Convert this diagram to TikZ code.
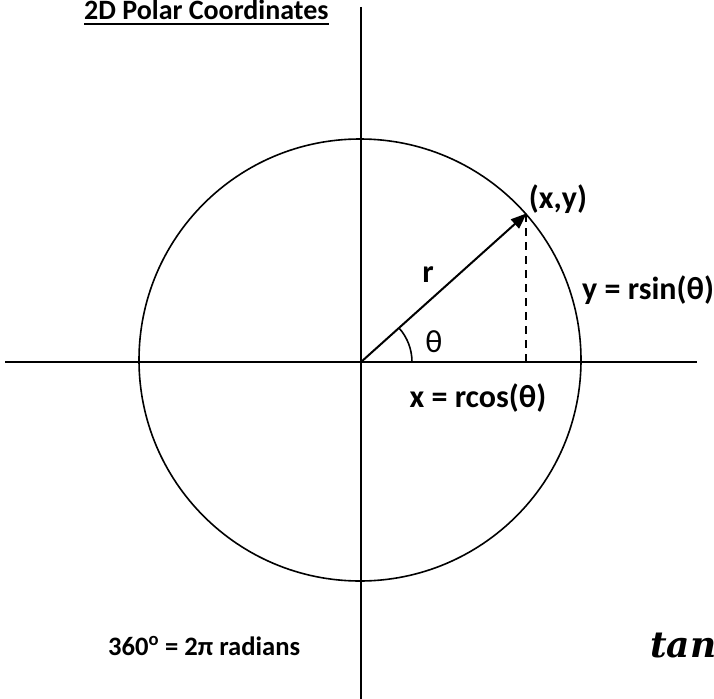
\documentclass[tikz,border=0pt]{standalone}
\usepackage{fontspec}
\setmainfont{Carlito}
\newfontfamily\mathlike{DejaVu Serif}
\usetikzlibrary{arrows.meta}
\begin{document}
\begin{tikzpicture}[x=1pt,y=-1pt,
  axis/.style={line width=2pt},
  lbl/.style={font=\fontsize{32}{36}\selectfont\bfseries, inner sep=0pt},
]
\useasboundingbox (0,0) rectangle (714,698);
\clip (0,0) rectangle (714,698);
\coordinate (O) at (361,362);
\coordinate (vt) at (361,7);
\coordinate (vb) at (361,700);
\coordinate (hl) at (5,362);
\coordinate (hr) at (697,362);
\coordinate (P) at (526,214);
\coordinate (Px) at (526,362);
\draw[axis] (vt) -- (vb);
\draw[axis] (hl) -- (hr);
\draw[line width=1.6pt] (360,360) circle (221);
\draw[axis, -{Triangle[length=16pt,width=12pt]}, shorten >=-1pt] (O) -- (P);
\draw[line width=1.6pt, dash pattern=on 8pt off 6pt] (P) -- (Px);
\draw[line width=1.6pt] (412,362) arc[start angle=0, end angle=-42, radius=51];
\node[font=\fontsize{28}{32}\selectfont\bfseries, inner sep=0pt, anchor=base west] (title) at (84,20) {2D Polar Coordinates};
\draw[line width=1.8pt] ([yshift=-4pt]title.base west) -- ([yshift=-4pt]title.base east);
\node[lbl] (xy) at (558,199) {(x,y)};
\node[lbl] (r) at (428,275) {r};
\node[lbl, font=\fontsize{32}{36}\selectfont\mdseries] (th) at (434,342) {θ};
\node[lbl, anchor=west] (ys) at (582,290) {y = rsin(θ)};
\node[lbl] (xc) at (478,398) {x = rcos(θ)};
\node[font=\fontsize{26.6}{30}\selectfont\bfseries, inner sep=0pt, anchor=base west] (deg) at (108,655) {360\textsuperscript{o} = 2π radians};
\node[font=\fontsize{36}{40}\selectfont\mathlike\bfseries\itshape, anchor=base west, inner sep=0pt] (tan) at (650,657) {tan};
\end{tikzpicture}
\end{document}
